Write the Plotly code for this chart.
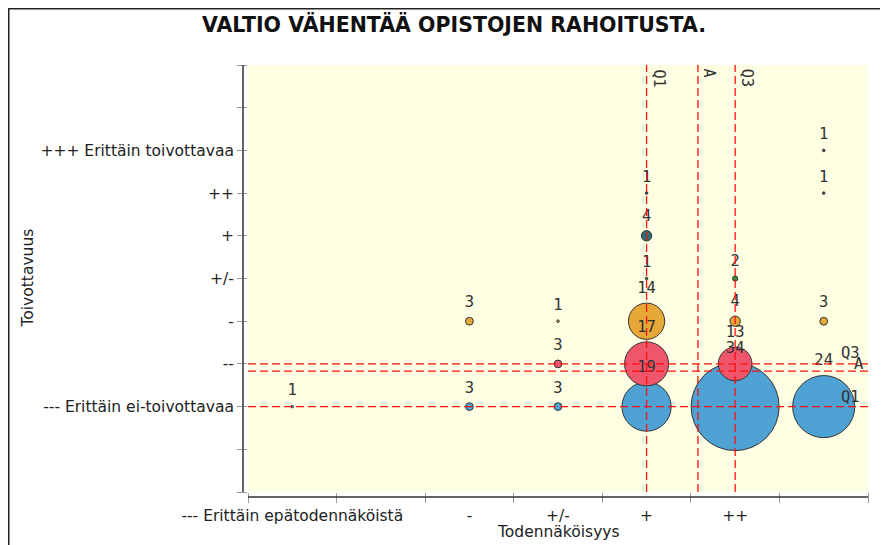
import plotly.graph_objects as go

# ---- data ----
x_labels = ["--- Erittäin epätodennäköistä", "--", "-", "+/-", "+", "++", "+++"]
y_labels = ["--- Erittäin ei-toivottavaa", "--", "-", "+/-", "+", "++", "+++ Erittäin toivottavaa"]

# likelihood (1..7), desirability (1..7), number of answers
pt_x = [1, 3, 4, 5, 6, 7,   4, 5, 6,   3, 4, 5, 6, 7,   5, 6,   5,   5, 7,   7]
pt_y = [1, 1, 1, 1, 1, 1,   2, 2, 2,   3, 3, 3, 3, 3,   4, 4,   5,   6, 6,   7]
pt_n = [1, 3, 3, 19, 34, 24, 3, 17, 13, 3, 1, 14, 4, 3, 1, 2,   4,   1, 1,   1]

# colour per desirability level
level_colors = ["#4EA2D4", "#F0566B", "#E6A836", "#3D8B3D", "#2C6F75", "#4B4B7A", "#6B4B7A"]

# statistics lines
x_stats = {"Q1": 5.0, "A": 5.58, "Q3": 6.0}
y_stats = {"Q1": 1.0, "A": 1.83, "Q3": 2.0}

title = "VALTIO VÄHENTÄÄ OPISTOJEN RAHOITUSTA."
x_title = "Todennäköisyys"
y_title = "Toivottavuus"

# ---- style ----
PX_PER_COUNT = 88 / 34
W, H = 874, 537
L, R, T, B = 240, 860, 57, 484
PW, PH = R - L, B - T


def px_x(p):
    return (p - L) / PW


def px_y(p):
    return 1 - (p - T) / PH


fig = go.Figure()
fig.add_trace(go.Scatter(
    x=pt_x, y=pt_y, mode="markers",
    marker=dict(size=[n * PX_PER_COUNT for n in pt_n],
                color=[level_colors[y - 1] for y in pt_y],
                line=dict(color="#333333", width=1), opacity=1),
    hoverinfo="skip", showlegend=False,
))
# count labels, placed above each bubble (invisible helper markers set the offset)
fig.add_trace(go.Scatter(
    x=pt_x, y=pt_y, mode="markers+text",
    text=[str(n) for n in pt_n], textposition="top center",
    textfont=dict(family="DejaVu Sans Mono", size=15.5, color="#333333"),
    marker=dict(size=[0.8 * n * PX_PER_COUNT + 8.3 for n in pt_n], color="rgba(0,0,0,0)",
                line=dict(width=0)),
    hoverinfo="skip", showlegend=False,
))

shapes = []
annotations = []
dash = "8px,4px"
for name, v in x_stats.items():
    shapes.append(dict(type="line", xref="x", yref="paper", x0=v, x1=v, y0=0, y1=1,
                       line=dict(color="#FF1010", width=1.3, dash=dash), layer="above"))
    annotations.append(dict(x=v, y=1, xref="x", yref="paper", text=name, showarrow=False,
                            textangle=90, xanchor="left", yanchor="top", xshift=1, yshift=-2,
                            font=dict(family="DejaVu Sans Mono", size=15, color="#333333")))
for name, v in y_stats.items():
    shapes.append(dict(type="line", xref="paper", yref="y", x0=0, x1=1, y0=v, y1=v,
                       line=dict(color="#FF1010", width=1.3, dash=dash), layer="above"))
    xs = {"Q1": -6, "A": -2, "Q3": -6}[name]
    ys = {"Q1": -1, "A": -4, "Q3": 0}[name]
    annotations.append(dict(x=1, y=v, xref="paper", yref="y", text=name, showarrow=False,
                            xanchor="right", yanchor="bottom", xshift=xs, yshift=ys,
                            font=dict(family="DejaVu Sans Mono", size=15.5, color="#333333")))

# axis lines (detached from the plot area)
shapes.append(dict(type="line", xref="paper", yref="paper", x0=-5 / PW, x1=-5 / PW, y0=0, y1=1,
                   line=dict(color="#333333", width=1.5)))
shapes.append(dict(type="line", xref="paper", yref="paper", x0=0, x1=1, y0=-5 / PH, y1=-5 / PH,
                   line=dict(color="#333333", width=1.5)))
# outer frame
shapes.append(dict(type="rect", xref="paper", yref="paper", x0=px_x(0.75), x1=px_x(873.25),
                   y0=px_y(560), y1=px_y(0.75), line=dict(color="#222222", width=1.5)))

annotations.append(dict(x=px_x(446), y=px_y(16), xref="paper", yref="paper", text=title,
                        showarrow=False, xanchor="center", yanchor="middle",
                        font=dict(family="DejaVu Sans", size=20.5, color="#111111", weight="bold")))
annotations.append(dict(x=0.5, y=px_y(524), xref="paper", yref="paper", text=x_title,
                        showarrow=False, xanchor="center", yanchor="middle",
                        font=dict(family="DejaVu Sans", size=15.5, color="#222222")))
annotations.append(dict(x=px_x(19), y=0.5, xref="paper", yref="paper", text=y_title,
                        showarrow=False, xanchor="center", yanchor="middle", textangle=-90,
                        font=dict(family="DejaVu Sans", size=15.5, color="#222222")))

x_ticktext = list(x_labels)
x_ticktext[1] = ""
x_ticktext[6] = ""

fig.update_layout(
    width=W, height=H,
    margin=dict(l=L, r=W - R, t=T, b=H - B),
    paper_bgcolor="white", plot_bgcolor="#FEFEE2",
    shapes=shapes, annotations=annotations,
    font=dict(family="DejaVu Sans", size=15.5, color="#222222"),
    xaxis=dict(range=[0.5, 7.5], tickmode="array", tickvals=list(range(1, 8)), ticktext=x_ticktext,
               ticks="outside", ticklen=9, tickcolor="rgba(0,0,0,0)", showgrid=False, zeroline=False,
               showline=False, fixedrange=True,
               minor=dict(tickmode="array", tickvals=[i + 0.5 for i in range(0, 8)], ticks="outside",
                          ticklen=10, tickcolor="#999999", showgrid=False)),
    yaxis=dict(range=[-1, 9], tickmode="array", tickvals=list(range(-1, 10)),
               ticktext=["", ""] + y_labels + ["", ""],
               ticks="outside", ticklen=10, tickcolor="#999999", showgrid=False, zeroline=False,
               showline=False, fixedrange=True),
)

fig.write_html("out.html")
